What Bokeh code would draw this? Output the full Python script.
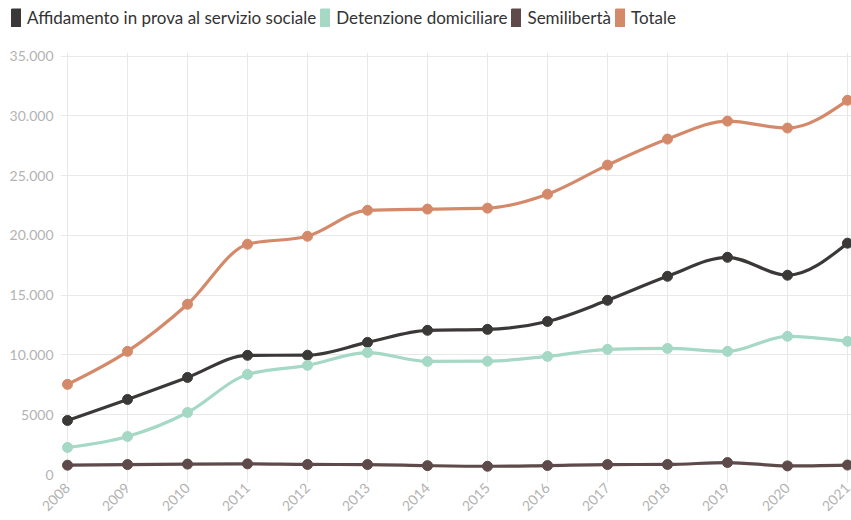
import math
from bokeh.plotting import figure
from bokeh.models import ColumnDataSource, Legend, LegendItem, FixedTicker, Range1d
from bokeh.embed import file_html
from bokeh.resources import INLINE

years = [2008, 2009, 2010, 2011, 2012, 2013, 2014, 2015, 2016, 2017, 2018, 2019, 2020, 2021]
affidamento = [4520, 6280, 8120, 9970, 9980, 11050, 12060, 12140, 12800, 14570, 16580, 18170, 16670, 19350]
detenzione = [2260, 3180, 5190, 8370, 9130, 10200, 9460, 9480, 9880, 10470, 10550, 10300, 11560, 11140]
semiliberta = [780, 830, 870, 890, 840, 830, 740, 690, 750, 830, 840, 1000, 720, 790]
totale = [7540, 10300, 14240, 19260, 19930, 22100, 22200, 22280, 23450, 25880, 28060, 29560, 28980, 31300]

series_names = ["Affidamento in prova al servizio sociale", "Detenzione domiciliare", "Semilibertà", "Totale"]
series_values = [affidamento, detenzione, semiliberta, totale]
series_colors = ["#3b3838", "#a6d8c6", "#5e4a4a", "#d48a6a"]

y_ticks = [0, 5000, 10000, 15000, 20000, 25000, 30000, 35000]
y_tick_labels = ["0", "5000", "10.000", "15.000", "20.000", "25.000", "30.000", "35.000"]

FONT = "Lato"
FRAME_W, FRAME_H = 791, 422
LEG_H = 38


def monotone_bezier(xs, ys):
    """Bezier control points for d3-style curveMonotoneX through the data."""
    n = len(xs)
    sgn = lambda v: (v > 0) - (v < 0)
    t = [0.0] * n
    for i in range(1, n - 1):
        h0 = xs[i] - xs[i - 1]
        h1 = xs[i + 1] - xs[i]
        s0 = (ys[i] - ys[i - 1]) / h0
        s1 = (ys[i + 1] - ys[i]) / h1
        p = (s0 * h1 + s1 * h0) / (h0 + h1)
        t[i] = (sgn(s0) + sgn(s1)) * min(abs(s0), abs(s1), 0.5 * abs(p))
    h = xs[1] - xs[0]
    t[0] = (3 * (ys[1] - ys[0]) / h - t[1]) / 2
    h = xs[-1] - xs[-2]
    t[-1] = (3 * (ys[-1] - ys[-2]) / h - t[-2]) / 2
    d = dict(x0=[], y0=[], x1=[], y1=[], cx0=[], cy0=[], cx1=[], cy1=[])
    for i in range(n - 1):
        dx = (xs[i + 1] - xs[i]) / 3
        d["x0"].append(xs[i]); d["y0"].append(ys[i])
        d["x1"].append(xs[i + 1]); d["y1"].append(ys[i + 1])
        d["cx0"].append(xs[i] + dx); d["cy0"].append(ys[i] + dx * t[i])
        d["cx1"].append(xs[i + 1] - dx); d["cy1"].append(ys[i + 1] - dx * t[i + 1])
    return d


# ---- legend strip ----
lf = figure(width=851, height=LEG_H, output_backend="svg", toolbar_location=None,
            x_range=Range1d(0, 1), y_range=Range1d(0, 1),
            min_border=0, x_axis_type=None, y_axis_type=None)
lf.outline_line_color = None
lf.grid.visible = False
items = []
for name, col in zip(series_names, series_colors):
    dummy = lf.quad(left=[0], right=[0], top=[0], bottom=[0], fill_color=col, line_color=col,
                    line_width=4, line_join="round", visible=False)
    items.append(LegendItem(label=name, renderers=[dummy]))
legend = Legend(items=items, orientation="horizontal", location=(11, LEG_H - 9 - 19),
                glyph_width=10, glyph_height=19, label_standoff=6, spacing=4,
                padding=0, margin=0, border_line_color=None, background_fill_alpha=0,
                label_text_font=FONT, label_text_font_size="17px", label_text_color="#333333",
                label_height=19)
lf.add_layout(legend)

# ---- main chart ----
p = figure(frame_width=FRAME_W, frame_height=FRAME_H, output_backend="svg", toolbar_location=None,
           x_range=Range1d(2007.883, 2021.067), y_range=Range1d(0, 35300),
           min_border_left=60, min_border_right=0, min_border_top=52 - LEG_H, min_border_bottom=0)
p.outline_line_color = None
p.background_fill_color = "white"

grid_color = "#e8e8e8"
p.xgrid.ticker = FixedTicker(ticks=years)
p.xaxis.ticker = FixedTicker(ticks=years)
p.ygrid.ticker = FixedTicker(ticks=y_ticks)
p.yaxis.ticker = FixedTicker(ticks=y_ticks)
p.yaxis.major_label_overrides = {t: l for t, l in zip(y_ticks, y_tick_labels)}
p.xgrid.grid_line_color = grid_color
p.ygrid.grid_line_color = grid_color
p.xgrid.grid_line_width = 1
p.ygrid.grid_line_width = 1

for ax in (p.xaxis, p.yaxis):
    ax.axis_line_color = None
    ax.major_tick_line_color = grid_color
    ax.minor_tick_line_color = None
    ax.major_tick_in = 0
    ax.major_label_text_color = "#b3b3b3"
    ax.major_label_text_font = FONT
    ax.major_label_text_font_size = "14px"
p.yaxis.major_tick_out = 0
p.yaxis.major_label_standoff = 7
p.xaxis.major_tick_out = 8
p.xaxis.major_label_standoff = 3
p.xaxis.major_label_orientation = math.pi / 4

for name, vals, col in zip(series_names, series_values, series_colors):
    src = ColumnDataSource(monotone_bezier(years, vals))
    p.bezier(x0="x0", y0="y0", x1="x1", y1="y1", cx0="cx0", cy0="cy0", cx1="cx1", cy1="cy1",
             source=src, line_color=col, line_width=3.2)
for name, vals, col in zip(series_names, series_values, series_colors):
    p.scatter(years, vals, size=10, fill_color=col, line_color=col)

open("out.html", "w").write(file_html([lf, p], INLINE))
